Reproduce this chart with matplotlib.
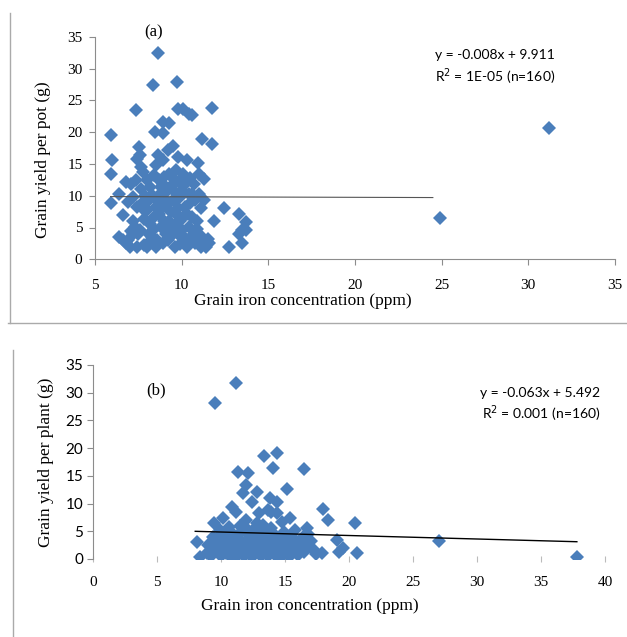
import matplotlib
matplotlib.use("Agg")
import matplotlib.pyplot as plt
from matplotlib.lines import Line2D

# panel (a): grain iron (ppm) vs grain yield per pot (g)
fe_a = [
    5.9, 6.0, 5.9, 5.9, 6.4, 6.4, 6.6, 6.6, 6.8, 6.9, 6.8, 7.1, 7.2, 7.0, 7.1, 7.2,
    7.35, 7.45, 7.35, 7.55, 7.6, 7.4, 7.3, 7.4, 7.5, 7.65, 7.75, 7.65, 7.7, 7.8, 7.6, 7.8, 7.7,
    8.0, 8.1, 8.0, 8.2, 8.1, 8.0, 8.2, 8.35, 8.45, 8.4, 8.3, 8.5, 8.4, 8.3, 8.5,
    8.63, 8.65, 8.7, 8.8, 8.6, 8.7, 8.8, 8.6, 8.9, 8.95, 8.9, 9.0, 9.1, 8.9, 9.0, 9.1, 8.9,
    9.3, 9.2, 9.3, 9.4, 9.2, 9.3, 9.4, 9.2, 9.5, 9.6, 9.5, 9.7, 9.6, 9.5, 9.6,
    9.75, 9.8, 9.8, 9.85, 9.9, 9.8, 9.9, 9.8, 10.1, 10.1, 10.0, 10.2, 10.1, 10.0, 10.2,
    10.4, 10.3, 10.4, 10.5, 10.3, 10.4, 10.3, 10.5, 10.6, 10.7, 10.8, 10.6, 10.7, 10.8,
    10.95, 11.0, 11.0, 11.1, 10.9, 11.0, 11.1, 11.2, 11.3, 11.3, 11.2, 11.4, 11.3,
    11.76, 11.76, 11.86, 12.45, 12.75, 13.3, 13.3, 13.5, 13.5, 13.7, 13.7, 24.9, 31.2,
    8.2, 9.0, 9.9, 10.6, 8.5, 9.7, 7.9, 8.9, 10.2, 9.4, 8.4, 9.1, 10.9, 11.5, 7.2, 6.9,
    11.6, 10.5, 9.6, 8.7,
]
yield_a = [
    19.5, 15.6, 13.4, 8.8, 10.3, 3.5, 3.0, 6.9, 12.2, 9.0, 2.5, 11.9, 9.8, 1.9, 4.5, 4.0,
    23.5, 15.8, 12.4, 17.7, 16.4, 8.2, 5.1, 1.9, 4.0, 14.5, 13.7, 11.1, 8.0, 6.4, 4.6, 2.2, 8.8,
    12.4, 9.3, 7.7, 5.6, 4.0, 1.9, 11.4, 27.4, 20.0, 13.2, 10.1, 8.2, 6.7, 3.5, 1.9,
    32.4, 16.4, 12.4, 11.4, 9.3, 7.2, 5.1, 3.0, 21.6, 19.9, 15.6, 13.0, 10.6, 8.2, 6.1, 4.0, 2.5,
    21.4, 17.2, 13.5, 11.6, 8.8, 6.1, 4.6, 3.0, 17.9, 12.4, 9.3, 7.2, 5.4, 4.0, 1.9,
    27.9, 23.7, 16.1, 12.2, 9.8, 8.0, 6.1, 4.0, 23.7, 13.5, 10.9, 8.2, 6.7, 4.6, 3.3,
    22.9, 15.6, 10.3, 8.8, 7.2, 5.1, 1.9, 3.3, 22.7, 11.9, 9.3, 6.7, 4.0, 2.5,
    15.1, 13.5, 10.3, 8.0, 6.1, 3.5, 1.9, 19.0, 12.7, 9.3, 3.5, 1.9, 3.0,
    23.8, 18.2, 6.1, 8.0, 1.9, 7.2, 4.0, 4.6, 2.5, 5.9, 4.6, 6.5, 20.7,
    2.8, 9.0, 2.4, 10.3, 14.8, 14.0, 10.0, 11.8, 11.9, 7.4, 4.8, 5.3, 4.8, 3.2, 6.0, 3.0,
    2.5, 12.8, 10.6, 10.1,
]

# panel (b): grain iron (ppm) vs grain yield per plant (g)
fe_b = [
    9.54, 11.2, 11.3, 12.1, 13.4, 14.4, 14.1, 16.5, 12.0, 11.7, 12.8, 15.2, 12.4, 13.8,
    14.4, 13.9, 10.9, 11.2, 13.0, 13.7, 14.4, 15.4, 18.0, 18.4, 20.5, 9.5, 10.2, 12.0,
    12.8, 16.7, 14.8, 11.5, 13.3, 15.8, 10.6, 8.1, 8.4, 19.1, 19.5, 17.9, 20.6, 19.2,
    17.4, 17.0, 16.6, 27.0, 37.8,
    9.0, 9.2, 9.4, 9.6, 9.8, 10.0, 10.1, 10.3, 10.5, 10.6, 10.8, 10.9, 11.0, 11.2, 11.3,
    11.4, 11.6, 11.7, 11.8, 12.0, 12.1, 12.2, 12.4, 12.5, 12.6, 12.7, 12.9, 13.0, 13.1,
    13.2, 13.4, 13.5, 13.6, 13.7, 13.8, 14.0, 14.1, 14.2, 14.3, 14.5, 14.6, 14.7, 14.8,
    15.0, 15.1, 15.3, 15.4, 15.5, 15.7, 15.9, 16.0, 16.2, 16.4, 16.5,
    9.3, 10.4, 11.1, 12.3, 13.3, 14.4, 15.2, 11.9, 12.6, 13.9, 14.9, 10.7, 9.9, 11.5, 12.8,
    8.9, 9.7, 10.2, 10.9, 11.6, 12.2, 12.9, 13.6, 14.2, 15.0, 15.6, 16.1, 16.8, 17.3,
]
yield_b = [
    28.2, 31.8, 15.7, 15.5, 18.6, 19.1, 16.4, 16.2, 13.4, 11.9, 12.1, 12.6, 10.3, 11.0,
    10.3, 8.5, 9.4, 8.5, 8.3, 8.8, 8.3, 7.4, 9.0, 7.0, 6.5, 6.5, 7.4, 7.0,
    6.5, 5.6, 6.7, 6.0, 6.2, 5.2, 5.8, 3.1, 0.4, 3.4, 2.0, 1.1, 1.0, 1.2,
    0.9, 3.2, 2.2, 3.3, 0.4,
    2.5, 0.5, 4.0, 1.5, 3.0, 0.6, 4.6, 2.0, 3.5, 0.8, 1.6, 4.2, 2.8, 0.4, 3.6,
    1.2, 4.8, 2.2, 0.6, 3.2, 1.6, 4.4, 0.4, 2.6, 3.8, 1.2, 5.0, 2.0, 0.6,
    3.4, 1.4, 4.4, 2.6, 0.5, 3.8, 1.8, 4.6, 0.8, 3.0, 2.0, 4.0, 0.4, 2.8,
    1.2, 3.6, 2.2, 0.6, 4.4, 1.6, 3.0, 0.8, 2.4, 4.0, 1.2,
    2.0, 1.0, 3.0, 2.8, 1.0, 2.4, 0.9, 5.8, 5.4, 5.6, 4.8, 5.0, 5.2, 2.0, 4.0,
    1.0, 2.2, 2.6, 0.9, 3.3, 1.0, 3.0, 2.3, 1.3, 4.2, 3.1, 1.9, 4.5, 1.6,
]

# fitted trend lines as printed on the chart
slope_a, icpt_a, span_a = -0.008, 9.911, [5.9, 24.5]
slope_b, icpt_b, span_b = -0.063, 5.492, [8.0, 37.8]

SERIF = "Liberation Serif"
SANS = "Lato"
BLUE = "#4a7ebb"
GREY = "#8c8c8c"
MS = 7.5

fig = plt.figure(figsize=(6.27, 6.37), dpi=100)

# ---------- panel (a)
ax1 = fig.add_axes([0.1515, 0.593, 0.829, 0.349])
ax1.plot(fe_a, yield_a, "D", color=BLUE, markersize=MS, markeredgewidth=0)
ax1.plot(span_a, [slope_a * v + icpt_a for v in span_a], color="#555555", lw=0.8)
ax1.set_xlim(5, 35)
ax1.set_ylim(0, 35)
ax1.set_xticks(range(5, 36, 5))
ax1.set_yticks(range(0, 36, 5))
for s in ["top", "right"]:
    ax1.spines[s].set_visible(False)
for s in ["left", "bottom"]:
    ax1.spines[s].set_color(GREY)
    ax1.spines[s].set_linewidth(0.8)
ax1.tick_params(direction="out", length=4, color=GREY, labelsize=11, pad=5)
ax1.tick_params(axis="x", pad=10)
for lab in ax1.get_xticklabels() + ax1.get_yticklabels():
    lab.set_family(SERIF)
ax1.set_xlabel("Grain iron concentration (ppm)", family=SERIF, fontsize=12.5)
ax1.xaxis.set_label_coords(0.40, -0.15)
ax1.set_ylabel("Grain yield per pot (g)", family=SERIF, fontsize=12.5)
ax1.yaxis.set_label_coords(-0.085, 0.45)
ax1.text(0.095, 1.02, "(a)", transform=ax1.transAxes, family=SERIF, fontsize=12,
         va="center")
ax1.text(0.885, 0.86, "y = -0.008x + 9.911\nR$^2$ = 1E-05 (n=160)",
         transform=ax1.transAxes, family=SANS, fontsize=10, ha="right", va="center",
         linespacing=1.3)

# ---------- panel (b)
ax2 = fig.add_axes([0.148, 0.1225, 0.817, 0.3046])
ax2.plot(fe_b, yield_b, "D", color=BLUE, markersize=MS, markeredgewidth=0)
ax2.plot(span_b, [slope_b * v + icpt_b for v in span_b], color="black", lw=1.0)
ax2.set_xlim(0, 40)
ax2.set_ylim(0, 35)
ax2.set_xticks(range(0, 41, 5))
ax2.set_yticks(range(0, 36, 5))
for s in ["top", "right", "bottom"]:
    ax2.spines[s].set_visible(False)
ax2.spines["left"].set_color(GREY)
ax2.spines["left"].set_linewidth(0.8)
ax2.tick_params(axis="y", direction="out", length=4, color=GREY, labelsize=11, pad=3)
ax2.tick_params(axis="x", direction="inout", length=4, color="#bbbbbb", labelsize=11, pad=10)
for lab in ax2.get_yticklabels():
    lab.set_family(SANS)
for lab in ax2.get_xticklabels():
    lab.set_family(SERIF)
ax2.set_xlabel("Grain iron concentration (ppm)", family=SERIF, fontsize=12.5)
ax2.xaxis.set_label_coords(0.424, -0.20)
ax2.set_ylabel("Grain yield per plant (g)", family=SERIF, fontsize=12.5, labelpad=8)
ax2.text(0.105, 0.87, "(b)", transform=ax2.transAxes, family=SERIF, fontsize=12,
         va="center")
ax2.text(0.99, 0.79, "y = -0.063x + 5.492\nR$^2$ = 0.001 (n=160)",
         transform=ax2.transAxes, family=SANS, fontsize=10, ha="right", va="center",
         linespacing=1.3)

# thin grey frame edges around the two panels
fig.add_artist(Line2D([0.016, 0.016], [0.98, 0.493], color="#aaaaaa", lw=1.0))
fig.add_artist(Line2D([0.013, 1.0], [0.493, 0.493], color="#aaaaaa", lw=1.0))
fig.add_artist(Line2D([0.021, 0.021], [0.451, 0.0], color="#aaaaaa", lw=1.0))

fig.savefig("out.png", dpi=100)
